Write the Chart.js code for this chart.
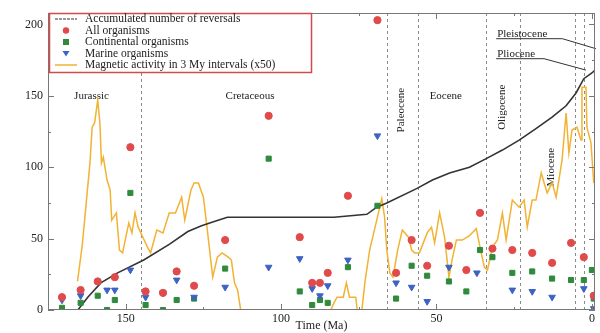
<!DOCTYPE html>
<html>
<head>
<meta charset="utf-8">
<script src="https://cdn.jsdelivr.net/npm/chart.js@4.4.1/dist/chart.umd.min.js"></script>
<style>
  html, body { margin: 0; padding: 0; background: #fff; }
  #wrap { width: 600px; height: 333px; }
</style>
</head>
<body>
<div id="wrap"><canvas id="chart"></canvas></div>
<script>
// ----------------------------------------------------------------
//  Data (ages in Ma)
// ----------------------------------------------------------------
const orgAges    = [170.5, 164.5, 159, 156, 153.5, 148.5, 143.6, 138, 133.6, 128, 118, 104, 94, 90, 87.5, 85, 78.5, 69, 63, 58, 53, 46, 40.4, 37, 36, 32, 25.6, 19.2, 12.8, 6.7, 2.6, 0, -0.6];
const allOrg     = [9, 14, 20, null, 23, 114, 13, 12, 27, 17, 49, 136, 51, 19, 19, 26, 80, 203, 26, 49, 31, 45, 28, null, 68, 43, 42, 40, 33, 47, 37, null, 10];
const contOrg    = [1.5, 5, 10, 0, 7, 82, 3.5, 0, 7, 8, 29, 106, 13, 3.5, 7, 5, 30, 73, 8, 31, 24, 20, 13, null, 42, 37, 26, 27, 22, 21, 21, 28, 8];
const marineOrg  = [7, 10, null, 14, 14, 28, 9, 12, 21, 9, 16, 30, 36, 15, 10, 17, 35, 122, 19, 16, 6, 30, null, 26, null, null, 14, 13, 9, null, 15, null, 1];

const revAges    = [165.4, 162.2, 158, 152.6, 144.2, 136, 130, 125.6, 121.5, 117.3, 94, 83, 72.4, 69.2, 66, 56.4, 51.3, 45.8, 39.4, 34, 28.8, 23.4, 18, 12.8, 8.3, 5.1, 2.6, 0, -1];
const revCount   = [0, 9, 19, 26, 35, 46, 55, 59, 62, 65, 65, 65, 67, 72, 75, 85, 91, 96, 100, 106, 112, 119, 127, 135, 143, 152, 162, 166, 168];

const magAges    = [165.5, 164, 163, 161.5, 160.8, 160, 159, 158.3, 157.8, 157.2, 156, 155, 154.5, 153, 152, 151, 149, 148, 147, 146, 144.5, 143, 142, 140, 138, 136, 134, 132, 131, 129, 128, 126.6, 125, 124, 123, 122, 120.5, 119, 117, 116, 115, 114, 113,
                    84, 83, 82, 80, 79, 78, 76, 75.5, 74, 73, 71.5, 69, 67.6, 66.7, 66, 65, 64, 62.5, 61, 59, 58, 57, 55.5, 53, 51.6, 50.6, 49, 47.4, 46, 45, 43.6, 41.7, 39.4, 37.2, 36, 34.6, 33.6, 32, 30.4, 28.8, 27.6, 25.6, 23.4, 21.8, 20.8, 19.2, 18, 16.3, 14.4, 12.8, 11.5, 9.6, 8.3, 7.4, 6.4, 4.8, 3.5, 3.2, 1.9, 1.6, 0.3, -0.6];
const magValues  = [20, 45, 68, 103, 128, 131, 147, 131, 103, 107, 91, 84, 63, 68, 42, 40, 61, 54, 68, 58, 51, 44, 40, 56, 54, 68, 68, 79, 63, 84, 89, 89, 79, 61, 42, 23, 37, 40, 37, 35, 19, 14, 0,
                    0, 5, 9, 9, 19, 9, 9, 0, 0, 20, 42, 65, 78, 65, 42, 26, 23, 42, 56, 51, 42, 40, 40, 54, 58, 47, 68, 51, 23, 35, 49, 49, 52, 57, 44, 30, 28, 44, 49, 68, 49, 77, 72, 77, 58, 77, 77, 96, 82, 89, 79, 105, 138, 110, 126, 128, 119, 156, 156, 128, 117, 89];

const xTicks     = [0, 50, 100, 150];
const xMinor     = [25, 75, 125];
const yTicks     = [0, 50, 100, 150, 200];
const yMinor     = [25, 75, 125, 175];

// epoch boundaries (Ma) and labels: [text, age, value, vertical]
const boundaries = [145, 66, 56, 34, 23, 5.3, 2.6];
const epochs     = [
  ['Jurassic', 161, 150, false],
  ['Cretaceous', 110, 150, false],
  ['Paleocene', 61.5, 140, true],
  ['Eocene', 47, 150, false],
  ['Oligocene', 29, 142, true],
  ['Miocene', 13, 100, true]
];
// leader labels: [text, age, value, cornerAge, endAge, endValue]
const leaders    = [
  ['Pleistocene', 30.8, 190, 9.5, -1.3, 183],
  ['Pliocene', 30.8, 176, 15.4, 1.9, 168]
];

const legendItems = ['Accumulated number of reversals', 'All organisms', 'Continental organisms', 'Marine organisms', 'Magnetic activity in 3 My intervals (x50)'];

const RED = '#e04a4a', GREEN = '#2f8a3c', BLUE = '#3d62c4', ORANGE = '#f2b232', BLACK = '#333';
const SERIF = '"Liberation Serif", "DejaVu Serif", serif';

const pts = (xs, ys) => xs.map((x, i) => ({ x, y: ys[i] })).filter(p => p.y !== null);

// ----------------------------------------------------------------
//  Decorations: frame, inner ticks, boundaries, epoch labels, legend
// ----------------------------------------------------------------
const decor = {
  id: 'decor',
  beforeDatasetsDraw(chart) {
    const { ctx, chartArea: a, scales: { x, y } } = chart;
    ctx.save();
    // epoch boundaries
    ctx.strokeStyle = '#8a8a8a';
    ctx.lineWidth = 1;
    ctx.setLineDash([3, 3]);
    boundaries.forEach(b => {
      const px = Math.round(x.getPixelForValue(b)) + 0.5;
      ctx.beginPath(); ctx.moveTo(px, a.top); ctx.lineTo(px, a.bottom); ctx.stroke();
    });
    ctx.setLineDash([]);

    // epoch labels
    ctx.fillStyle = '#222';
    ctx.font = '11px ' + SERIF;
    ctx.textAlign = 'center';
    ctx.textBaseline = 'middle';
    epochs.forEach(([t, age, v, vert]) => {
      const px = x.getPixelForValue(age), py = y.getPixelForValue(v);
      if (vert) {
        ctx.save(); ctx.translate(px, py); ctx.rotate(-Math.PI / 2);
        ctx.fillText(t, 0, 0); ctx.restore();
      } else ctx.fillText(t, px, py);
    });

    // Pleistocene / Pliocene leaders
    ctx.textAlign = 'left';
    ctx.textBaseline = 'alphabetic';
    ctx.strokeStyle = '#333';
    leaders.forEach(([t, age, v, cAge, eAge, eVal]) => {
      const px = x.getPixelForValue(age), py = y.getPixelForValue(v);
      ctx.fillText(t, px + 1, py - 2);
      ctx.beginPath();
      ctx.moveTo(px, py);
      ctx.lineTo(x.getPixelForValue(cAge), py);
      ctx.lineTo(x.getPixelForValue(eAge), y.getPixelForValue(eVal));
      ctx.stroke();
    });
    ctx.restore();
  },
  afterDatasetsDraw(chart) {
    const { ctx, chartArea: a, scales: { x, y } } = chart;
    ctx.save();
    // frame + inner ticks
    ctx.strokeStyle = '#777';
    ctx.lineWidth = 1;
    ctx.strokeRect(a.left + 0.5, a.top + 0.5, a.right - a.left - 1, a.bottom - a.top - 1);
    const tickX = (v, len) => {
      const px = Math.round(x.getPixelForValue(v)) + 0.5;
      ctx.beginPath();
      ctx.moveTo(px, a.bottom); ctx.lineTo(px, a.bottom - len);
      ctx.moveTo(px, a.top); ctx.lineTo(px, a.top + len);
      ctx.stroke();
    };
    const tickY = (v, len) => {
      const py = Math.round(y.getPixelForValue(v)) + 0.5;
      ctx.beginPath();
      ctx.moveTo(a.left, py); ctx.lineTo(a.left + len, py);
      ctx.moveTo(a.right, py); ctx.lineTo(a.right - len, py);
      ctx.stroke();
    };
    xTicks.forEach(v => tickX(v, 6));
    xMinor.forEach(v => tickX(v, 3));
    yTicks.forEach(v => tickY(v, 6));
    yMinor.forEach(v => tickY(v, 3));

    // legend box
    const lx = a.left + 1, ly = a.top, lw = 262, lh = 59;
    ctx.fillStyle = '#fff';
    ctx.fillRect(lx, ly, lw, lh);
    ctx.strokeStyle = '#d24a4a';
    ctx.lineWidth = 1.5;
    ctx.strokeRect(lx + 0.5, ly + 0.5, lw, lh);
    ctx.font = '11.5px ' + SERIF;
    ctx.textAlign = 'left';
    ctx.textBaseline = 'middle';
    legendItems.forEach((t, i) => {
      const cy = ly + 6 + i * 11.5, sx = lx + 17;
      ctx.lineWidth = 1.2;
      if (i === 0) {
        ctx.strokeStyle = BLACK; ctx.setLineDash([3, 1]);
        ctx.beginPath(); ctx.moveTo(lx + 6, cy); ctx.lineTo(lx + 28, cy); ctx.stroke();
        ctx.setLineDash([]);
      } else if (i === 1) {
        ctx.fillStyle = RED; ctx.beginPath(); ctx.arc(sx, cy, 3.2, 0, Math.PI * 2); ctx.fill();
      } else if (i === 2) {
        ctx.fillStyle = GREEN; ctx.fillRect(sx - 3, cy - 3, 6, 6);
      } else if (i === 3) {
        ctx.fillStyle = BLUE; ctx.beginPath();
        ctx.moveTo(sx - 3.5, cy - 2.5); ctx.lineTo(sx + 3.5, cy - 2.5); ctx.lineTo(sx, cy + 3); ctx.closePath(); ctx.fill();
      } else {
        ctx.strokeStyle = ORANGE; ctx.lineWidth = 1.5;
        ctx.beginPath(); ctx.moveTo(lx + 6, cy); ctx.lineTo(lx + 28, cy); ctx.stroke();
      }
      ctx.fillStyle = '#222';
      ctx.fillText(t, lx + 36, cy);
    });
    ctx.restore();
  }
};

// ----------------------------------------------------------------
//  Chart
// ----------------------------------------------------------------
new Chart(document.getElementById('chart'), {
  type: 'scatter',
  data: {
    datasets: [
      {
        label: legendItems[4], data: pts(magAges, magValues), showLine: true,
        borderColor: ORANGE, borderWidth: 1.5, pointRadius: 0, tension: 0, order: 4
      },
      {
        label: legendItems[0], data: pts(revAges, revCount), showLine: true,
        borderColor: BLACK, borderWidth: 1.6, pointRadius: 0, tension: 0, order: 3
      },
      {
        label: legendItems[2], data: pts(orgAges, contOrg), pointStyle: 'rect',
        backgroundColor: GREEN, borderColor: GREEN, pointRadius: 3.6, order: 2
      },
      {
        label: legendItems[3], data: pts(orgAges, marineOrg), pointStyle: 'triangle', rotation: 180,
        backgroundColor: BLUE, borderColor: BLUE, pointRadius: 3.8, order: 1
      },
      {
        label: legendItems[1], data: pts(orgAges, allOrg), pointStyle: 'circle',
        backgroundColor: RED, borderColor: RED, pointRadius: 3.6, order: 0
      }
    ]
  },
  options: {
    responsive: true,
    maintainAspectRatio: false,
    animation: false,
    layout: { padding: { top: 13, right: 3, left: 0, bottom: 0 } },
    plugins: { legend: { display: false }, tooltip: { enabled: false } },
    scales: {
      x: {
        type: 'linear', reverse: true, min: -1, max: 175,
        grid: { display: false, drawTicks: false },
        border: { display: false },
        ticks: { font: { size: 12, family: SERIF }, color: '#222', padding: 2, maxRotation: 0 },
        afterBuildTicks: s => { s.ticks = xTicks.map(v => ({ value: v })); },
        afterFit: s => { s.height = 23; },
        title: { display: true, text: 'Time (Ma)', font: { size: 12, family: SERIF }, color: '#222', padding: 0 }
      },
      y: {
        type: 'linear', min: 0, max: 208,
        grid: { display: false, drawTicks: false },
        border: { display: false },
        ticks: { font: { size: 12, family: SERIF }, color: '#222', padding: 5 },
        afterBuildTicks: s => { s.ticks = yTicks.map(v => ({ value: v })); },
        afterFit: s => { s.width = 48; }
      }
    }
  },
  plugins: [decor]
});
</script>
</body>
</html>
